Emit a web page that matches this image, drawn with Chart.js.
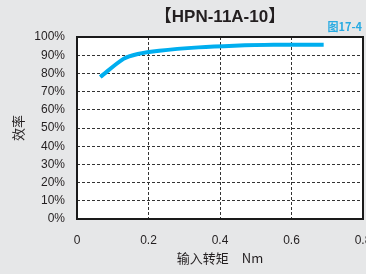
<!DOCTYPE html>
<html>
<head>
<meta charset="utf-8">
<script src="https://cdn.jsdelivr.net/npm/chart.js@4"></script>
<style>
  html, body { margin: 0; padding: 0; background: #e6e7e8; }
  #wrap { width: 366px; height: 274px; }
</style>
</head>
<body>
<div id="wrap"><canvas id="chart" width="366" height="274"></canvas></div>
<script>
// 入力トルク (Nm) と効率 (%)
const torqueValues = [0.065, 0.13, 0.17, 0.23, 0.34, 0.44, 0.55, 0.69];
const efficiencyValues = [78, 88, 90.7, 92.5, 94.3, 95.2, 95.7, 95.7];
const xTicks = [0, 0.2, 0.4, 0.6, 0.8];
const yTicks = [0, 10, 20, 30, 40, 50, 60, 70, 80, 90, 100];
const chartTitle = '【HPN-11A-10】';
const figureLabel = '图17-4';
const xAxisTitle = '输入转矩　Nm';
const yAxisTitle = '效率';

const fontFamily = '"Liberation Sans", Arial, "Noto Sans CJK SC", sans-serif';
const cjkFont = '"Noto Sans CJK SC", sans-serif';

// 背景・枠線・タイトル・図番号
const framePlugin = {
    id: 'frame',
    beforeDraw(chart) {
        const { ctx, chartArea: a } = chart;
        ctx.save();
        ctx.fillStyle = '#e6e7e8';
        ctx.fillRect(0, 0, chart.width, chart.height);
        ctx.fillStyle = '#ffffff';
        ctx.fillRect(a.left, a.top, a.right - a.left, a.bottom - a.top);
        ctx.restore();
    },
    afterDraw(chart) {
        const { ctx, chartArea: a } = chart;
        ctx.save();
        ctx.strokeStyle = '#1a1a1a';
        ctx.lineWidth = 2;
        ctx.strokeRect(a.left, a.top, a.right - a.left, a.bottom - a.top);
        // タイトル
        ctx.fillStyle = '#231f20';
        ctx.font = 'bold 17px ' + fontFamily;
        ctx.textAlign = 'center';
        ctx.textBaseline = 'middle';
        ctx.fillText(chartTitle, (a.left + a.right) / 2, 17);
        // 図番号
        ctx.fillStyle = '#29abe2';
        ctx.font = 'bold 11px ' + cjkFont;
        ctx.textAlign = 'right';
        ctx.fillText(figureLabel, 362, 27);
        ctx.restore();
    }
};

const ctx = document.getElementById('chart').getContext('2d');
new Chart(ctx, {
    type: 'line',
    data: {
        datasets: [{
            data: torqueValues.map((x, i) => ({ x: x, y: efficiencyValues[i] })),
            borderColor: '#00aeef',
            borderWidth: 4,
            pointRadius: 0,
            tension: 0.3,
            fill: false
        }]
    },
    options: {
        responsive: false,
        animation: false,
        layout: { padding: { left: 0, right: 3, top: 37, bottom: 0 } },
        plugins: {
            legend: { display: false },
            tooltip: { enabled: false },
            title: { display: false }
        },
        scales: {
            x: {
                type: 'linear',
                min: 0,
                max: 0.8,
                afterBuildTicks(scale) { scale.ticks = xTicks.map(v => ({ value: v })); },
                afterFit(scale) {
                    scale.height = 55;
                    scale.paddingLeft = 0;
                    scale.paddingRight = 0;
                },
                ticks: {
                    color: '#231f20',
                    padding: 14,
                    font: { family: fontFamily, size: 12 },
                    callback: v => String(v)
                },
                grid: { color: '#333333', lineWidth: 1, drawTicks: false },
                border: { display: false, dash: [3, 2] },
                title: {
                    display: true,
                    text: xAxisTitle,
                    color: '#231f20',
                    font: { family: cjkFont, size: 13 },
                    padding: { top: 2, bottom: 8 }
                }
            },
            y: {
                min: 0,
                max: 100,
                afterBuildTicks(scale) { scale.ticks = yTicks.map(v => ({ value: v })); },
                afterFit(scale) {
                    scale.width = 77;
                    scale.paddingTop = 0;
                    scale.paddingBottom = 0;
                },
                ticks: {
                    color: '#231f20',
                    padding: 12,
                    font: { family: fontFamily, size: 12 },
                    callback: v => v + '%'
                },
                grid: { color: '#333333', lineWidth: 1, drawTicks: false },
                border: { display: false, dash: [3, 2] },
                title: {
                    display: true,
                    text: yAxisTitle,
                    color: '#231f20',
                    font: { family: cjkFont, size: 13 },
                    padding: { top: 10, bottom: 0 }
                }
            }
        }
    },
    plugins: [framePlugin]
});
</script>
</body>
</html>
